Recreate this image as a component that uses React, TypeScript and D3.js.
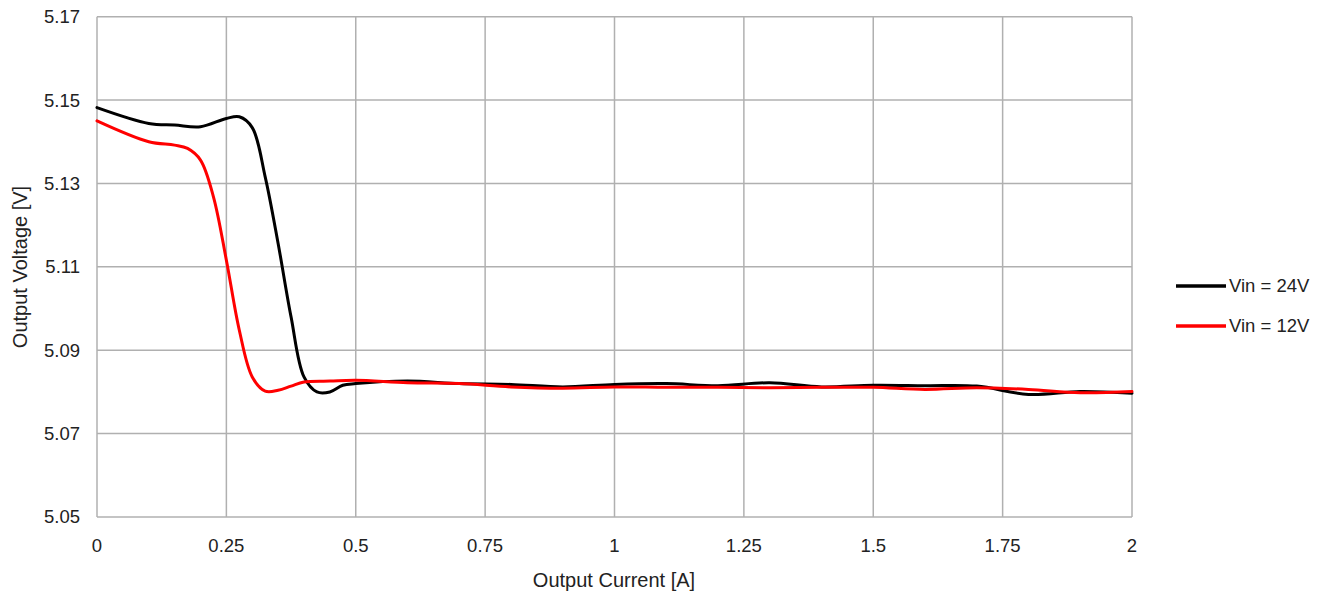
import React from "react";
import * as d3 from "d3";

const xTicks = [0, 0.25, 0.5, 0.75, 1, 1.25, 1.5, 1.75, 2];
const xTickLabels = ["0", "0.25", "0.5", "0.75", "1", "1.25", "1.5", "1.75", "2"];
const yTicks = [5.05, 5.07, 5.09, 5.11, 5.13, 5.15, 5.17];
const yTickLabels = ["5.05", "5.07", "5.09", "5.11", "5.13", "5.15", "5.17"];

const current24 = [0, 0.1, 0.15, 0.2, 0.25, 0.275, 0.3, 0.325, 0.35, 0.375, 0.4, 0.425, 0.45, 0.475, 0.5, 0.6, 0.7, 0.8, 0.9, 1.0, 1.1, 1.2, 1.3, 1.4, 1.5, 1.6, 1.7, 1.8, 1.9, 2.0];
const vout24 = [5.1482, 5.1444, 5.144, 5.1436, 5.1456, 5.146, 5.1434, 5.1316, 5.1156, 5.098, 5.0836, 5.08, 5.08, 5.0816, 5.082, 5.0826, 5.082, 5.0818, 5.0812, 5.0818, 5.082, 5.0815, 5.0822, 5.0812, 5.0816, 5.0815, 5.0814, 5.0794, 5.0801, 5.0797];

const current12 = [0, 0.1, 0.15, 0.175, 0.2, 0.225, 0.25, 0.275, 0.3, 0.325, 0.35, 0.375, 0.4, 0.45, 0.5, 0.6, 0.7, 0.8, 0.9, 1.0, 1.1, 1.2, 1.3, 1.4, 1.5, 1.6, 1.7, 1.8, 1.9, 2.0];
const vout12 = [5.145, 5.14, 5.1392, 5.1384, 5.1356, 5.1268, 5.1116, 5.0948, 5.0836, 5.0802, 5.0804, 5.0814, 5.0824, 5.0826, 5.0828, 5.0822, 5.082, 5.0812, 5.0809, 5.0812, 5.0811, 5.0811, 5.081, 5.0811, 5.0811, 5.0806, 5.081, 5.0806, 5.0798, 5.0801];

const seriesNames = ["Vin = 24V", "Vin = 12V"];
const seriesColors = ["#000000", "#ff0000"];

const W = 1324;
const H = 597;
const left = 97;
const right = 1132;
const top = 16.7;
const bottom = 517;
const font = "'Liberation Sans', Arial, sans-serif";

export default function App() {
  const x = d3.scaleLinear().domain([0, 2]).range([left, right]);
  const y = d3.scaleLinear().domain([5.05, 5.17]).range([bottom, top]);
  const line = d3
    .line<[number, number]>()
    .x((d) => x(d[0]))
    .y((d) => y(d[1]))
    .curve(d3.curveCatmullRom.alpha(0.5));

  const series = [
    current24.map((c, i) => [c, vout24[i]] as [number, number]),
    current12.map((c, i) => [c, vout12[i]] as [number, number]),
  ];

  return (
    <div style={{ position: "absolute", left: 0, top: 0 }}>
      <svg width={W} height={H} style={{ display: "block", background: "#fff" }}>
        <rect x={0} y={0} width={W} height={H} fill="#fff" />
        {xTicks.map((t) => (
          <line key={"gx" + t} x1={x(t)} x2={x(t)} y1={top} y2={bottom} stroke="#b0b0b0" strokeWidth={1.5} />
        ))}
        {yTicks.map((t) => (
          <line key={"gy" + t} x1={left} x2={right} y1={y(t)} y2={y(t)} stroke="#b0b0b0" strokeWidth={1.5} />
        ))}
        {yTicks.map((t, i) => (
          <text key={"ty" + t} x={80} y={y(t)} dy="0.35em" textAnchor="end" fontFamily={font} fontSize={18.5} fill="#222">
            {yTickLabels[i]}
          </text>
        ))}
        {xTicks.map((t, i) => (
          <text key={"tx" + t} x={x(t)} y={552} textAnchor="middle" fontFamily={font} fontSize={18.5} fill="#222">
            {xTickLabels[i]}
          </text>
        ))}
        <text x={614} y={587} textAnchor="middle" fontFamily={font} fontSize={20} fill="#222">
          Output Current [A]
        </text>
        <text
          transform={`translate(27,267) rotate(-90)`}
          textAnchor="middle"
          fontFamily={font}
          fontSize={20}
          fill="#222"
        >
          Output Voltage [V]
        </text>
        {series.map((s, i) => (
          <path key={"s" + i} d={line(s) || ""} fill="none" stroke={seriesColors[i]} strokeWidth={3} strokeLinejoin="round" strokeLinecap="round" />
        ))}
        {seriesNames.map((n, i) => (
          <g key={"l" + i}>
            <line x1={1176} x2={1226} y1={286 + i * 40} y2={286 + i * 40} stroke={seriesColors[i]} strokeWidth={3.5} />
            <text x={1229} y={286 + i * 40} dy="0.35em" fontFamily={font} fontSize={18.5} fill="#222">
              {n}
            </text>
          </g>
        ))}
      </svg>
    </div>
  );
}
